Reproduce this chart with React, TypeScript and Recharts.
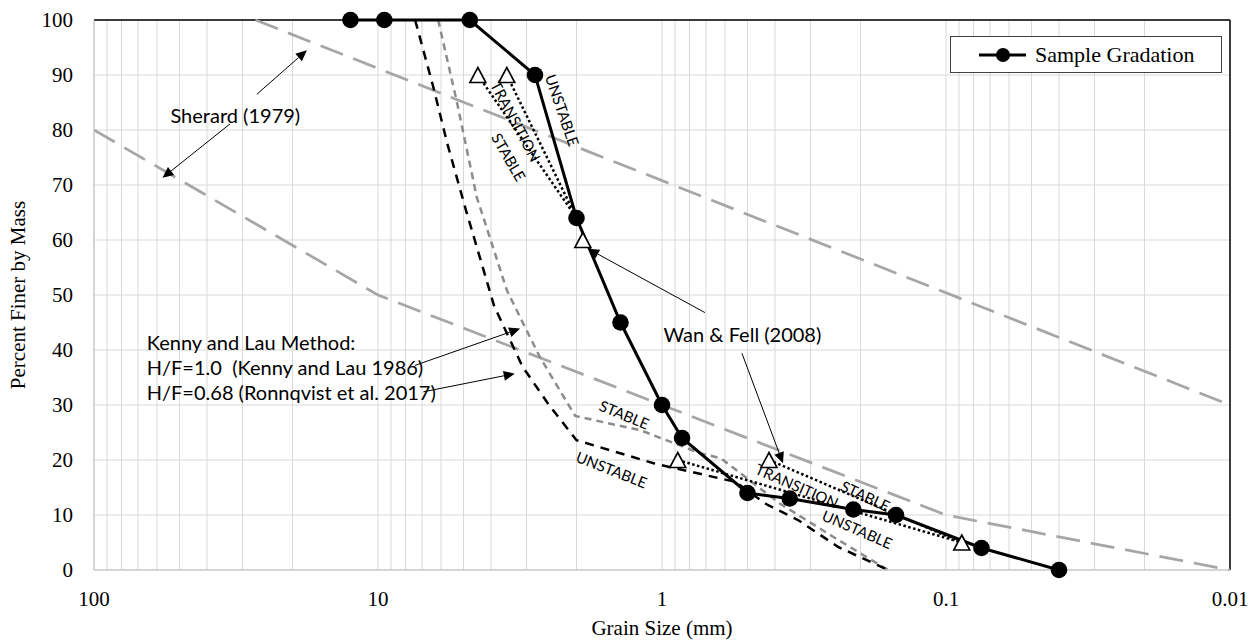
import React from 'react';
import {
  ComposedChart,
  Line,
  XAxis,
  YAxis,
  CartesianGrid,
  ReferenceLine,
  ReferenceDot,
  Legend,
  Label,
} from 'recharts';

// ---------------- data ----------------
const sampleSize = [12.5, 9.5, 4.75, 2.8, 2.0, 1.4, 1.0, 0.85, 0.5, 0.355, 0.212, 0.15, 0.075, 0.04];
const samplePct = [100, 100, 100, 90, 64, 45, 30, 24, 14, 13, 11, 10, 4, 0];

const sherardUpperSize = [27, 0.01];
const sherardUpperPct = [100, 30];
const sherardLowerSize = [100, 10, 1, 0.1, 0.01];
const sherardLowerPct = [80, 50, 30, 10, 0];

const klLowSize = [7.4, 6.4, 5.7, 4.9, 3.9, 3.1, 2.5, 2.0, 1.07, 0.55, 0.43, 0.33, 0.24, 0.16];
const klLowPct = [100, 88, 77.5, 65.4, 48, 37, 30, 23.6, 19.4, 16, 12, 9, 4.2, 0];
const klHighSize = [6.14, 5.29, 4.49, 3.52, 3.08, 2.69, 2.22, 2.02, 1.19, 0.73, 0.62, 0.385, 0.249, 0.16];
const klHighPct = [100, 85.4, 67.8, 50.9, 44.8, 38.7, 31.5, 28, 25.4, 21.2, 20.3, 12.1, 6, 0];

const wfMarkSize = [4.45, 3.52, 1.9, 0.88, 0.42, 0.088];
const wfMarkPct = [90, 90, 60, 20, 20, 5];
const wfLine1Size = [4.45, 2.0];
const wfLine1Pct = [90, 64];
const wfLine2Size = [3.52, 2.0];
const wfLine2Pct = [90, 64];
const wfLine3Size = [0.88, 0.088];
const wfLine3Pct = [20, 5];
const wfLine4Size = [0.42, 0.088];
const wfLine4Pct = [20, 5];

const xTicks = [
  0.01, 0.02, 0.03, 0.04, 0.05, 0.06, 0.07, 0.08, 0.09,
  0.1, 0.2, 0.3, 0.4, 0.5, 0.6, 0.7, 0.8, 0.9,
  1, 2, 3, 4, 5, 6, 7, 8, 9,
  10, 20, 30, 40, 50, 60, 70, 80, 90, 100,
];
const xLabelTicks = [0.01, 0.1, 1, 10, 100];
const yTicks = [0, 10, 20, 30, 40, 50, 60, 70, 80, 90, 100];

// annotation texts [size, pct]
const sherardText = { x: 31.8, y: 82.7, text: 'Sherard (1979)' };
const wfText = { x: 0.521, y: 42.9, text: 'Wan & Fell (2008)' };
const klTextX = 65.2;
const klTextY = [41.5, 36.9, 32.4];
const klTextLines = ['Kenny and Lau Method:', 'H/F=1.0  (Kenny and Lau 1986)', 'H/F=0.68 (Ronnqvist et al. 2017)'];

// arrows: [fromSize, fromPct, toSize, toPct]
const arrows: number[][] = [
  [26.7, 86.5, 17.8, 94.5],
  [33.2, 81.1, 57.4, 71.3],
  [7.41, 37.2, 3.16, 43.9],
  [6.92, 32.4, 3.3, 35.7],
  [0.706, 46.8, 1.82, 58.4],
  [0.523, 39.4, 0.375, 19.4],
];

// rotated zone labels: text, size, pct, angle
const zoneLabels: [string, number, number, number][] = [
  ['UNSTABLE', 2.24, 83.6, 71],
  ['TRANSITION', 3.27, 81.6, 62],
  ['STABLE', 3.46, 75.1, 60],
  ['STABLE', 1.357, 28.3, 22.5],
  ['UNSTABLE', 1.503, 18.3, 21.5],
  ['TRANSITION', 0.3346, 15.35, 23.7],
  ['STABLE', 0.1919, 13.5, 25],
  ['UNSTABLE', 0.205, 7.45, 23.5],
];

const pts = (xs: number[], ys: number[]) => xs.map((x, i) => ({ x, y: ys[i] }));

const ANNO_FONT = 'Lato, "Open Sans", sans-serif';
const SERIF = '"Liberation Serif", "Times New Roman", serif';

const ArrowShape = (props: any) => {
  const { x1, y1, x2, y2 } = props;
  const dx = x2 - x1;
  const dy = y2 - y1;
  const len = Math.hypot(dx, dy) || 1;
  const ux = dx / len;
  const uy = dy / len;
  const L = 11;
  const W = 5;
  const bx = x2 - ux * L;
  const by = y2 - uy * L;
  return (
    <g>
      <line x1={x1} y1={y1} x2={bx} y2={by} stroke="#000" strokeWidth={1} />
      <path d={`M${x2},${y2} L${bx - uy * W},${by + ux * W} L${bx + uy * W},${by - ux * W} Z`} fill="#000" />
    </g>
  );
};

const TriangleDot = (p: any) => {
  const { cx, cy } = p;
  if (cx == null || cy == null) return null;
  const s = 8;
  return (
    <path
      d={`M${cx},${cy - 7.5} L${cx + s},${cy + 7.5} L${cx - s},${cy + 7.5} Z`}
      fill="#fff"
      stroke="#000"
      strokeWidth={1.6}
    />
  );
};

const LegendContent = (props: any) => {
  const items = (props.payload || []).filter((e: any) => e.value === 'Sample Gradation');
  return (
    <div
      style={{
        width: 272,
        height: 37,
        boxSizing: 'border-box',
        border: '1px solid #404040',
        background: '#fff',
        display: 'flex',
        alignItems: 'center',
      }}
    >
      {items.map((e: any) => (
        <React.Fragment key={e.value}>
          <svg width={76} height={20} style={{ display: 'block' }}>
            <line x1={28} y1={10} x2={75} y2={10} stroke="#000" strokeWidth={3} />
            <circle cx={52} cy={10} r={7} fill="#000" />
          </svg>
          <span style={{ fontFamily: SERIF, fontSize: 22, color: '#000', marginLeft: 8, lineHeight: '22px' }}>
            {e.value}
          </span>
        </React.Fragment>
      ))}
    </div>
  );
};

export default function App() {
  return (
    <div style={{ position: 'absolute', left: 0, top: 0, background: '#fff' }}>
      <ComposedChart
        width={1253}
        height={642}
        margin={{ top: 20, right: 23, bottom: 0, left: 18 }}
        style={{ fontFamily: SERIF }}
      >
        <CartesianGrid stroke="#d9d9d9" strokeWidth={1} />
        <XAxis
          type="number"
          dataKey="x"
          scale="log"
          domain={[0.01, 100]}
          allowDataOverflow
          reversed
          ticks={xTicks}
          interval={0}
          tickFormatter={(v: number) => (xLabelTicks.some((t) => Math.abs(t - v) < 1e-9) ? String(v) : '')}
          tickLine={false}
          tickSize={0}
          tickMargin={21}
          axisLine={{ stroke: '#bfbfbf', strokeWidth: 1 }}
          tick={{ fill: '#000', fontSize: 21, fontFamily: SERIF }}
          height={72}
        >
          <Label
            value="Grain Size (mm)"
            position="insideBottom"
            offset={7}
            style={{ fill: '#000', fontSize: 21, fontFamily: SERIF }}
          />
        </XAxis>
        <YAxis
          type="number"
          domain={[0, 100]}
          ticks={yTicks}
          interval={0}
          tickLine={false}
          tickSize={0}
          tickMargin={21}
          axisLine={{ stroke: '#bfbfbf', strokeWidth: 1 }}
          tick={{ fill: '#000', fontSize: 21, fontFamily: SERIF }}
          width={76}
        >
          <Label
            value="Percent Finer by Mass"
            angle={-90}
            position="insideLeft"
            offset={0}
            style={{ fill: '#000', fontSize: 21, fontFamily: SERIF, textAnchor: 'middle' }}
          />
        </YAxis>

        <ReferenceLine y={100} stroke="#000" strokeWidth={1.5} ifOverflow="visible" />
        <ReferenceLine x={0.01} stroke="#000" strokeWidth={1.5} ifOverflow="visible" />

        <Line
          data={pts(sherardUpperSize, sherardUpperPct)}
          dataKey="y"
          name="Sherard upper"
          stroke="#a6a6a6"
          strokeWidth={2.75}
          strokeDasharray="24 11"
          dot={false}
          activeDot={false}
          legendType="none"
          isAnimationActive={false}
        />
        <Line
          data={pts(sherardLowerSize, sherardLowerPct)}
          dataKey="y"
          name="Sherard lower"
          stroke="#a6a6a6"
          strokeWidth={2.75}
          strokeDasharray="24 11"
          dot={false}
          activeDot={false}
          legendType="none"
          isAnimationActive={false}
        />
        <Line
          data={pts(klHighSize, klHighPct)}
          dataKey="y"
          name="H/F=1.0"
          stroke="#8c8c8c"
          strokeWidth={2.5}
          strokeDasharray="7 5"
          dot={false}
          activeDot={false}
          legendType="none"
          isAnimationActive={false}
        />
        <Line
          data={pts(klLowSize, klLowPct)}
          dataKey="y"
          name="H/F=0.68"
          stroke="#000"
          strokeWidth={2.5}
          strokeDasharray="9 7"
          dot={false}
          activeDot={false}
          legendType="none"
          isAnimationActive={false}
        />
        {[
          [wfLine1Size, wfLine1Pct],
          [wfLine2Size, wfLine2Pct],
          [wfLine3Size, wfLine3Pct],
          [wfLine4Size, wfLine4Pct],
        ].map(([xs, ys], i) => (
          <Line
            key={`wf${i}`}
            data={pts(xs, ys)}
            dataKey="y"
            name={`Wan Fell ${i}`}
            stroke="#000"
            strokeWidth={2.5}
            strokeDasharray="2.5 2.5"
            dot={false}
            activeDot={false}
            legendType="none"
            isAnimationActive={false}
          />
        ))}
        <Line
          data={pts(sampleSize, samplePct)}
          dataKey="y"
          name="Sample Gradation"
          stroke="#000"
          strokeWidth={3}
          dot={{ r: 8.3, fill: '#000', stroke: '#000', strokeWidth: 0 }}
          activeDot={false}
          isAnimationActive={false}
        />
        <Line
          data={pts(wfMarkSize, wfMarkPct)}
          dataKey="y"
          name="Wan & Fell markers"
          stroke="none"
          dot={<TriangleDot />}
          activeDot={false}
          legendType="none"
          isAnimationActive={false}
        />

        {arrows.map((a, i) => (
          <ReferenceLine
            key={`ar${i}`}
            segment={[
              { x: a[0], y: a[1] },
              { x: a[2], y: a[3] },
            ]}
            ifOverflow="visible"
            shape={ArrowShape}
          />
        ))}

        <ReferenceDot
          x={sherardText.x}
          y={sherardText.y}
          r={0}
          ifOverflow="visible"
          shape={(p: any) => (
            <text x={p.cx} y={p.cy} textAnchor="middle" dominantBaseline="central" fontFamily={ANNO_FONT} fontSize={20} fill="#000">
              {sherardText.text}
            </text>
          )}
        />
        <ReferenceDot
          x={wfText.x}
          y={wfText.y}
          r={0}
          ifOverflow="visible"
          shape={(p: any) => (
            <text x={p.cx} y={p.cy} textAnchor="middle" dominantBaseline="central" fontFamily={ANNO_FONT} fontSize={20} fill="#000">
              {wfText.text}
            </text>
          )}
        />
        {klTextLines.map((t, i) => (
          <ReferenceDot
            key={`kl${i}`}
            x={klTextX}
            y={klTextY[i]}
            r={0}
            ifOverflow="visible"
            shape={(p: any) => (
              <text x={p.cx} y={p.cy} textAnchor="start" dominantBaseline="central" fontFamily={ANNO_FONT} fontSize={20} fill="#000" style={{ whiteSpace: 'pre' }}>
                {t}
              </text>
            )}
          />
        ))}
        {zoneLabels.map(([t, x, y, ang], i) => (
          <ReferenceDot
            key={`zl${i}`}
            x={x}
            y={y}
            r={0}
            ifOverflow="visible"
            shape={(p: any) => (
              <text
                x={p.cx}
                y={p.cy}
                textAnchor="middle"
                dominantBaseline="central"
                fontFamily={ANNO_FONT}
                fontSize={15}
                fill="#000"
                transform={`rotate(${ang} ${p.cx} ${p.cy})`}
              >
                {t}
              </text>
            )}
          />
        ))}

        <Legend
          layout="horizontal"
          verticalAlign="middle"
          align="center"
          content={<LegendContent />}
          wrapperStyle={{ position: 'absolute', left: 950, top: 36, width: 272, height: 37 }}
        />
      </ComposedChart>
    </div>
  );
}
